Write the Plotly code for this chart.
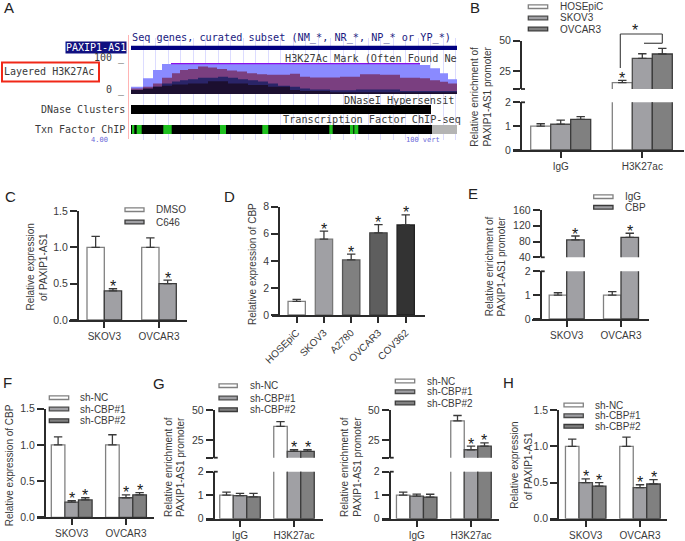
import plotly.graph_objects as go

W, H = 685, 541
SANS = "Liberation Sans"
MONO = "DejaVu Sans Mono"
INK = "#2b2b2b"
TXT = "#3a3a3a"

# ---------- Panel A data (genome browser tracks; position = arbitrary track units)
light_pos = [0, 12, 22, 31, 289, 299, 309, 317, 326]
light_val = [22, 48, 73, 91, 88, 78, 63, 45, 45]
purple_pos = [0, 12, 22, 31, 41, 49, 57, 67, 77, 86, 96, 106, 116, 126, 136, 159, 169, 179, 209, 229, 249, 269, 289, 299, 309, 317, 326]
purple_val = [17, 22, 32, 49, 63, 73, 76, 83, 80, 76, 71, 68, 63, 60, 58, 61, 52, 50, 52, 60, 58, 49, 48, 42, 37, 32, 32]
blue_pos = [0, 12, 22, 31, 41, 49, 57, 67, 87, 97, 107, 117, 127, 137, 147, 159, 169, 179, 199, 225, 269, 326]
blue_val = [12, 12, 22, 32, 38, 42, 45, 49, 52, 49, 45, 42, 38, 32, 25, 22, 17, 14, 11, 14, 9, 9]
dark_pos = [0, 12, 22, 31, 41, 57, 77, 97, 117, 137, 159, 169, 199, 326]
dark_val = [12, 17, 22, 25, 29, 32, 39, 32, 27, 22, 12, 9, 5, 5]
peak_span = [40, 289]
peak_val = [92, 92]
gene_start, gene_len = [0], [326]
dnase_start, dnase_len = [0], [300]
txn_start, txn_len = [0], [301]
txn_off_start, txn_off_len = [301], [25]
green_start = [1.3, 5.7, 32.3, 89, 131.3, 198.3, 219, 223.3]
green_len = [2, 5, 8.4, 6, 6, 3.4, 3.3, 4]

# ---------- Panel B
b_groups = ["IgG", "H3K27ac"]
b_names = ["HOSEpiC", "SKOV3", "OVCAR3"]
b_vals = [[1.0, 15.3], [1.08, 35.3], [1.28, 39.0]]
b_errs = [[0.1, 1.9], [0.17, 3.9], [0.12, 4.7]]
b_star = [[0, 1], [0, 0], [0, 0]]
# ---------- Panel C
c_groups = ["SKOV3", "OVCAR3"]
c_names = ["DMSO", "C646"]
c_vals = [[1.0, 1.0], [0.4, 0.5]]
c_errs = [[0.15, 0.13], [0.03, 0.05]]
c_star = [[0, 0], [1, 1]]
# ---------- Panel D
d_groups = ["HOSEpiC", "SKOV3", "A2780", "OVCAR3", "COV362"]
d_vals = [1.0, 5.6, 4.07, 6.07, 6.65]
d_errs = [0.15, 0.6, 0.43, 0.6, 0.75]
d_star = [0, 1, 1, 1, 1]
# ---------- Panel E
e_groups = ["SKOV3", "OVCAR3"]
e_names = ["IgG", "CBP"]
e_vals = [[1.0, 1.0], [84, 90.5]]
e_errs = [[0.1, 0.15], [10, 10.5]]
e_star = [[0, 0], [1, 1]]
# ---------- Panel F
sh_names = ["sh-NC", "sh-CBP#1", "sh-CBP#2"]
f_groups = ["SKOV3", "OVCAR3"]
f_vals = [[1.0, 1.0], [0.21, 0.27], [0.24, 0.31]]
f_errs = [[0.11, 0.14], [0.02, 0.04], [0.03, 0.03]]
f_star = [[0, 0], [1, 1], [1, 1]]
# ---------- Panel G (left, right)
g_groups = ["IgG", "H3K27ac"]
g1_vals = [[1.0, 36.4], [0.98, 15.3], [0.93, 15.3]]
g1_errs = [[0.13, 4.1], [0.1, 1.4], [0.15, 1.4]]
g1_star = [[0, 0], [0, 1], [0, 1]]
g2_vals = [[1.0, 41.1], [0.96, 16.7], [0.92, 19.7]]
g2_errs = [[0.13, 4.5], [0.09, 3.0], [0.12, 2.8]]
g2_star = [[0, 0], [0, 1], [0, 1]]
# ---------- Panel H
h_groups = ["SKOV3", "OVCAR3"]
h_vals = [[1.0, 1.0], [0.5, 0.43], [0.45, 0.48]]
h_errs = [[0.1, 0.13], [0.05, 0.04], [0.05, 0.06]]
h_star = [[0, 0], [1, 1], [1, 1]]

GREYS3 = ["#ffffff", "#a0a0a4", "#808080"]
EDGE3 = ["#808080", "#4a4a4a", "#3a3a3a"]
GREYS2 = ["#ffffff", "#a0a0a4"]
EDGE2 = ["#808080", "#3a3a3a"]
D_FILL = ["#ffffff", "#a0a0a4", "#808080", "#5e5e5e", "#333333"]
D_EDGE = ["#808080", "#777777", "#555555", "#444444", "#222222"]

fig = go.Figure()
layout = dict(width=W, height=H, autosize=False, margin=dict(l=0, r=0, t=0, b=0, pad=0),
              paper_bgcolor="white", plot_bgcolor="rgba(0,0,0,0)", showlegend=False,
              barmode="overlay", font=dict(family=SANS, size=10, color=TXT))
shapes, annos = [], []
counter = [0]


def px(x):
    return x / W


def py(y):
    return 1 - y / H


def text(x, y, s, size=10, family=SANS, color=TXT, anchor="left", angle=0, **kw):
    annos.append(dict(x=px(x), y=py(y), xref="paper", yref="paper", text=s, showarrow=False,
                      xanchor=anchor, yanchor="middle", textangle=angle,
                      font=dict(size=size, family=family, color=color), borderpad=0, **kw))


def line(x0, y0, x1, y1, color=INK, width=1.3):
    shapes.append(dict(type="line", xref="paper", yref="paper", x0=px(x0), y0=py(y0), x1=px(x1), y1=py(y1),
                       line=dict(color=color, width=width)))


def rect(x0, y0, x1, y1, fill, edge, width=1.3):
    shapes.append(dict(type="rect", xref="paper", yref="paper", x0=px(x0), y0=py(y0), x1=px(x1), y1=py(y1),
                       fillcolor=fill, line=dict(color=edge, width=width)))


def new_axis():
    counter[0] += 1
    return counter[0]


def name(prefix, n):
    return prefix + ("" if n == 1 else str(n))


def legend(names, fills, edges, x0, x1, ys, tx):
    for n, f, e, y in zip(names, fills, edges, ys):
        rect(x0, y - 1.8, x1, y + 1.8, f, e, 1.3)
        text(tx, y, n)


def y_title(lines, xs, yc):
    for s, x in zip(lines, xs):
        text(x, yc, s, anchor="center", angle=-90)


def star(x, y, xref, yref, shift=2):
    annos.append(dict(x=x, y=y, xref=xref, yref=yref, text="*", showarrow=False, xanchor="center", yanchor="middle",
                      yshift=shift, font=dict(size=16, family=SANS, color="#1a1a1a"), borderpad=0))


def panel(groups, series, errs, stars, fills, edges, t0, step, xa, xb, spine, bar_px, y_axes, tickangle=0):
    """y_axes: list of (y_bottom_px, y_top_px, lo, hi, tickvals, ticktext), lowest first."""
    nx = new_axis()
    xname, xref = name("xaxis", nx), name("x", nx)
    w = bar_px / step
    n = len(series)
    axes_y = []
    for k, (yb, yt, lo, hi, tv, tt) in enumerate(y_axes):
        ny = nx if k == 0 else new_axis()
        axes_y.append(name("y", ny))
        layout[name("yaxis", ny)] = dict(
            domain=[py(yb), py(yt)], range=[lo, hi], anchor="free", position=px(spine), side="left", automargin=False,
            showline=True, linecolor=INK, linewidth=2, ticks="outside", ticklen=7, tickwidth=1.8, tickcolor=INK,
            tickvals=tv, ticktext=tt, showgrid=False, zeroline=False,
            tickfont=dict(size=10.5, family=SANS, color=TXT), fixedrange=True)
        # inner stubs of the axis-break ticks
        if len(y_axes) > 1:
            line(spine, yb if k == 1 else yt, spine + 4, yb if k == 1 else yt, INK, 1.8)
    layout[xname] = dict(
        domain=[px(xa), px(xb)], range=[(xa - t0) / step, (xb - t0) / step], anchor=axes_y[0], automargin=False,
        showline=True, linecolor=INK, linewidth=2, ticks="outside", ticklen=6, tickwidth=1.8, tickcolor=INK,
        tickvals=list(range(len(groups))), ticktext=groups, tickangle=tickangle, showgrid=False, zeroline=False,
        tickfont=dict(size=10, family=SANS, color=TXT), fixedrange=True)
    for yname in axes_y:
        for i in range(n):
            offs = (i - (n - 1) / 2) * w
            xs = [g + offs for g in range(len(groups))]
            fig.add_trace(go.Bar(x=xs, y=series[i], width=w, marker=dict(color=fills[i], line=dict(color=edges[i], width=1.3)),
                                 error_y=dict(type="data", symmetric=False, array=errs[i], arrayminus=[0] * len(errs[i]),
                                              color="#3a3a3a", thickness=1.3, width=4.2),
                                 xaxis=xref, yaxis=yname, hoverinfo="skip"))
    # significance stars on the axis that holds each value
    for i in range(n):
        offs = (i - (n - 1) / 2) * w
        for g in range(len(groups)):
            if stars[i][g]:
                top = series[i][g] + errs[i][g]
                yname = axes_y[0]
                for k, ya in enumerate(y_axes):
                    if ya[2] <= top <= ya[3]:
                        yname = axes_y[k]
                star(g + offs, top, xref, yname)


# ===== Panel A =====
PA_X0, PA_X1 = 131, 457


def track_axis(y_top, y_bot, rng=None):
    n = new_axis()
    layout[name("xaxis", n)] = dict(domain=[px(PA_X0), px(PA_X1)], range=[0, 326], visible=False, anchor=name("y", n),
                                    fixedrange=True, automargin=False)
    layout[name("yaxis", n)] = dict(domain=[py(y_bot), py(y_top)], range=rng if rng else [-0.5, 0.5], visible=False,
                                    anchor=name("x", n), fixedrange=True, automargin=False)
    return name("x", n), name("y", n)


# guide lines
gx = new_axis()
layout[name("xaxis", gx)] = dict(domain=[px(PA_X0), px(PA_X1)], range=[0, 326], anchor=name("y", gx), showgrid=True, gridcolor="#dcdcff",
                                 gridwidth=1, tick0=12, dtick=12.5, showticklabels=False, ticks="", zeroline=False, showline=False,
                                 fixedrange=True, automargin=False)
layout[name("yaxis", gx)] = dict(domain=[py(140), py(38)], range=[0, 1], visible=False, anchor=name("x", gx), fixedrange=True, automargin=False)
fig.add_trace(go.Scatter(x=[0], y=[0], mode="markers", marker=dict(opacity=0), xaxis=name("x", gx), yaxis=name("y", gx), hoverinfo="skip"))

xa_, ya_ = track_axis(61, 94, [0, 100])
for p, v, c in [(light_pos, light_val, "#8a8aff"), (purple_pos, purple_val, "#7a3f80"),
                (blue_pos, blue_val, "#2a2468"), (dark_pos, dark_val, "#1c0f30")]:
    fig.add_trace(go.Scatter(x=p, y=v, mode="lines", line=dict(shape="hv", width=0, color=c), fill="tozeroy", fillcolor=c,
                             xaxis=xa_, yaxis=ya_, hoverinfo="skip"))
fig.add_trace(go.Scatter(x=peak_span, y=peak_val, mode="lines", line=dict(color="#8a10e8", width=1.3), xaxis=xa_, yaxis=ya_, hoverinfo="skip"))


def hbar(axes, starts, lens, color):
    fig.add_trace(go.Bar(y=[0] * len(starts), x=lens, base=starts, orientation="h", width=1, marker=dict(color=color, line=dict(width=0)),
                         xaxis=axes[0], yaxis=axes[1], hoverinfo="skip"))


hbar(track_axis(45.5, 50), gene_start, gene_len, "#000080")
hbar(track_axis(105, 114), dnase_start, dnase_len, "#000000")
t_axes = track_axis(125, 134)
hbar(t_axes, txn_start, txn_len, "#000000")
hbar(t_axes, txn_off_start, txn_off_len, "#b4b4b4")
hbar(t_axes, green_start, green_len, "#1fc01f")

line(128.5, 35, 128.5, 139, "#ffb4b4", 1)
rect(2, 62.5, 99, 81.5, "rgba(0,0,0,0)", "#f02818", 2)
NAVY = "#1a1a80"
text(131, 38, "Seq genes, curated subset (NM_*, NR_*, NP_* or YP_*)", family=MONO, color=NAVY, size=10.2)
text(127, 47.5, "PAXIP1-AS1", family=MONO, color="white", size=10, anchor="right", bgcolor="#101080")
text(126, 58, "100 _", family=MONO, anchor="right", size=10)
text(126, 90, "0 _", family=MONO, anchor="right", size=10)
text(3, 71.5, "Layered H3K27Ac", family=MONO, size=10)
text(284, 58, "H3K27Ac Mark (Often Found Ne", family=MONO, size=10.2)
text(343, 100, "DNaseI Hypersensit", family=MONO, size=10.2)
text(126, 109, "DNase Clusters", family=MONO, anchor="right", size=10)
text(282, 119, "Transcription Factor ChIP-seq", family=MONO, size=10.2)
text(126, 129, "Txn Factor ChIP", family=MONO, anchor="right", size=10)
text(90, 139.5, "4.00", family=MONO, color="#6a6ad8", size=7)
text(405, 139.5, "100 vert", family=MONO, color="#6a6ad8", size=7)

# ===== Panel B =====
panel(b_groups, b_vals, b_errs, b_star, GREYS3, EDGE3, 560.7, 81.6, 512.7, 684, 521, 20,
      [(150, 102.3, 0, 2, [0, 1, 2], ["0", "1", "2"]), (89, 40.7, 10, 50, [10, 25, 50], ["", "25", "50"])])
legend(b_names, GREYS3, EDGE3, 528.3, 547.7, [6.7, 18, 29], 559)
y_title(["Relative enrichment of", "PAXIP1-AS1 promoter"], [475, 487.7], 96.7)
line(620.3, 68, 620.3, 34, "#3a3a3a", 1.1)
line(620.3, 34, 662.3, 34, "#3a3a3a", 1.1)
line(662.3, 34, 662.3, 43.3, "#3a3a3a", 1.1)
line(644, 43.3, 662.3, 43.3, "#555555", 1.3)
text(635, 30, "*", size=16, anchor="center", color="#1a1a1a")

# ===== Panel C =====
panel(c_groups, c_vals, c_errs, c_star, GREYS2, EDGE2, 104.3, 54.7, 69, 186.7, 78, 17.3,
      [(320, 211, 0, 1.5, [0, 0.5, 1, 1.5], ["0.0", "0.5", "1.0", "1.5"])])
legend(c_names, GREYS2, EDGE2, 125, 144, [209.7, 222], 155)
y_title(["Relative expression", "of PAXIP1-AS1"], [29.5, 43], 267)

# ===== Panel D =====
panel(d_groups, [d_vals], [d_errs], [d_star], [D_FILL], [D_EDGE], 296.7, 27.25, 271.7, 425, 279.3, 17.3,
      [(315, 206.7, 0, 8, [0, 2, 4, 6, 8], ["0", "2", "4", "6", "8"])], tickangle=-45)
y_title(["Relative expression of CBP"], [252], 264)

# ===== Panel E =====
panel(e_groups, e_vals, e_errs, e_star, GREYS2, EDGE2, 566.7, 54.3, 532.3, 649.3, 540.7, 17.5,
      [(319, 271.3, 0, 2, [0, 1, 2], ["0", "1", "2"]),
       (257.3, 210, 40, 160, [40, 80, 120, 160], ["40", "80", "120", "160"])])
legend(e_names, GREYS2, EDGE2, 593.7, 613, [196.7, 207.3], 624.3)
y_title(["Relative enrichment of", "PAXIP1-AS1 promoter"], [489.5, 501.7], 266.7)

# ===== Panel F =====
panel(f_groups, f_vals, f_errs, f_star, GREYS3, EDGE3, 71.7, 54.3, 37.3, 154.3, 45, 13.6,
      [(517.3, 408.7, 0, 1.5, [0, 0.5, 1, 1.5], ["0.0", "0.5", "1.0", "1.5"])])
legend(sh_names, GREYS3, EDGE3, 49.3, 68.7, [397.7, 409, 420.7], 79.3)
y_title(["Relative expression of CBP"], [9.3], 465)

# ===== Panel G =====
BROKEN = [(518.7, 471.7, 0, 2, [0, 1, 2], ["0", "1", "2"]), (457.7, 410.3, 10, 50, [10, 25, 50], ["", "25", "50"])]
panel(g_groups, g1_vals, g1_errs, g1_star, GREYS3, EDGE3, 240, 54, 205.7, 322.7, 213.7, 13.5, BROKEN)
legend(sh_names, GREYS3, EDGE3, 219, 237.3, [385.7, 398, 409.7], 249)
y_title(["Relative enrichment of", "PAXIP1-AS1 promoter"], [168.3, 180.3], 466.7)
panel(g_groups, g2_vals, g2_errs, g2_star, GREYS3, EDGE3, 416.7, 54.3, 381.7, 498.7, 389.7, 13.5, BROKEN)
legend(sh_names, GREYS3, EDGE3, 395.3, 414.7, [381, 391.7, 403], 425.7)
y_title(["Relative enrichment of", "PAXIP1-AS1 promoter"], [344, 356.7], 467)

# ===== Panel H =====
panel(h_groups, h_vals, h_errs, h_star, GREYS3, EDGE3, 585.7, 54.3, 550, 666.7, 558.3, 13.5,
      [(518.7, 410.3, 0, 1.5, [0, 0.5, 1, 1.5], ["0.0", "0.5", "1.0", "1.5"])])
legend(sh_names, GREYS3, EDGE3, 564, 583.3, [405, 415.7, 426.3], 594.3)
y_title(["Relative expression", "of PAXIP1-AS1"], [515, 528.3], 465.7)

# ===== Panel letters =====
for s, x, y in [("A", 3, 8), ("B", 469, 7), ("C", 4, 197), ("D", 223, 197), ("E", 467, 193),
                ("F", 2, 382), ("G", 152, 383), ("H", 502, 382)]:
    text(x, y, s, size=15, color="#222222")

layout["shapes"] = shapes
layout["annotations"] = annos
fig.update_layout(**layout)
fig.write_html("out.html", config={"displayModeBar": False},
               post_script="document.body.style.margin='0';document.documentElement.style.overflow='hidden';")
